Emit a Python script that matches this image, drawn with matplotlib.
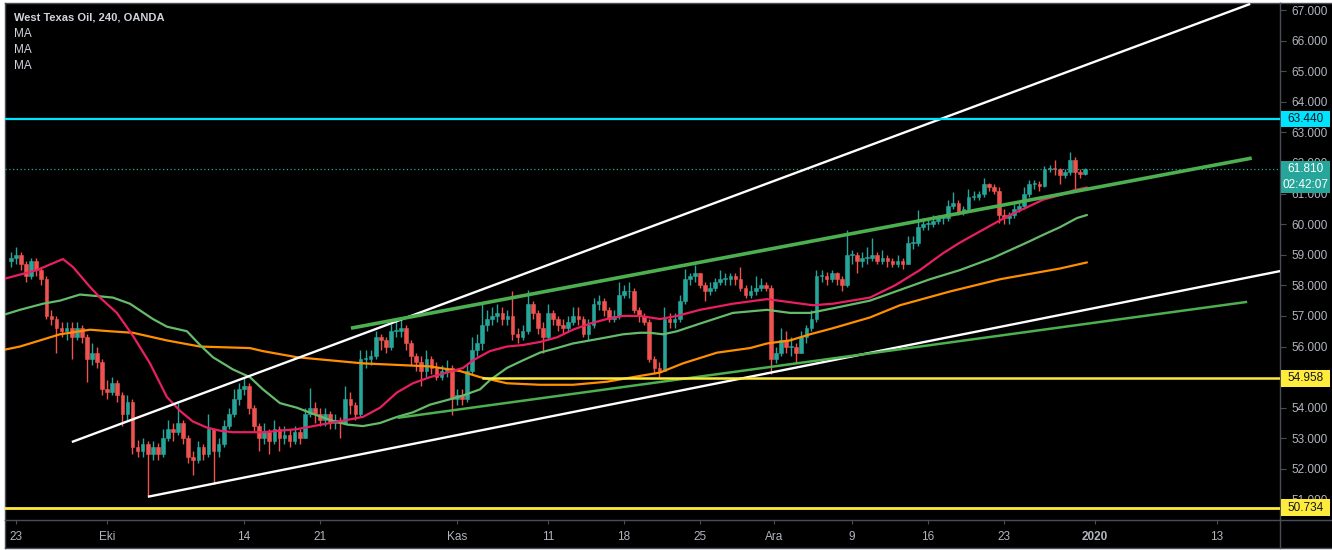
import matplotlib
matplotlib.use("Agg")
import matplotlib.pyplot as plt
import numpy as np
from matplotlib.patches import Rectangle
from matplotlib.lines import Line2D
import matplotlib.transforms as mtransforms

# ---------------- data ----------------
title = "West Texas Oil, 240, OANDA"
legend_rows = ["MA", "MA", "MA"]

# candles: 3 per trading day, day index 0 = 23 Sep (trading days only)
first_candle_day = -1 / 3
candles_per_day = 3
first_open = 58.8
closes = [
    58.9,
    59.0, 58.7, 58.3,  58.8, 58.5, 58.2,  57.0, 56.9, 56.6,  56.5, 56.6, 56.3,
    56.6, 56.3, 55.6,  55.8, 55.5, 54.6,  54.5, 54.8, 54.4,  53.8, 54.2, 52.7,
    52.6, 52.8, 52.5,  52.7, 52.5, 53.0,  53.3, 53.2, 53.5,  53.0, 52.4, 52.3,
    52.7, 52.5, 53.3,  52.6, 52.8, 53.4,  53.8, 54.3, 54.6,  54.7, 54.0, 53.4,
    53.0, 53.2, 52.9,  53.3, 53.0, 53.1,  52.9, 53.2, 53.0,  53.8, 54.0, 53.8,
    53.6, 53.8, 53.5,  53.6, 53.5, 54.3,  54.1, 53.8, 55.6,  55.6, 55.7, 56.3,
    56.2, 56.0, 56.5,  56.5, 56.6, 56.1,  55.7, 55.5, 55.2,  55.6, 55.3, 55.0,
    55.2, 55.3, 54.3,  54.4, 54.3, 55.2,  55.9, 56.1, 56.7,  56.9, 57.0, 57.1,
    56.9, 57.0, 56.4,  56.3, 56.5, 57.4,  57.1, 56.6, 56.3,  57.1, 56.9, 56.7,
    56.6, 56.8, 57.0,  56.9, 56.4, 56.7,  57.4, 57.5, 57.2,  56.9, 57.0, 57.7,
    57.8, 57.8, 57.2,  57.0, 56.8, 55.6,  55.3, 55.2, 56.9,  56.8, 56.9, 57.5,
    58.2, 58.3, 58.4,  58.0, 57.8, 57.9,  58.1, 58.2, 58.2,  58.3, 58.2, 57.9,
    57.7, 57.8, 57.9,  58.0, 57.9, 55.6,  55.8, 56.2, 56.0,  56.0, 55.8, 56.3,
    56.6, 56.9, 58.3,  58.3, 58.2, 58.4,  58.2, 58.0, 59.0,  59.0, 58.8, 58.9,
    58.9, 59.0, 58.8,  58.9, 58.8, 58.7,  58.8, 58.7, 59.4,  59.4, 59.9, 60.0,
    60.0, 60.1, 60.2,  60.2, 60.6, 60.7,  60.4, 60.5, 60.9,  60.9, 61.0, 61.3,
    61.2, 61.1, 60.3,  60.2, 60.3, 60.5,  60.6, 61.0, 61.3,  61.3, 61.25, 61.8,
    61.85, 61.8, 61.6,  61.7, 62.1, 61.7,  61.65, 61.81,
]
highs = [
    59.1,
    59.25, 59.1, 58.8,  58.9, 58.9, 58.6,  58.3, 57.2, 57.0,  56.8, 56.8, 56.8,
    56.8, 56.7, 56.4,  56.1, 56.0, 55.6,  54.9, 55.0, 54.9,  54.5, 54.4, 54.3,
    52.95, 53.0, 52.9,  52.9, 52.85, 53.3,  53.6, 53.5, 54.15,  53.6, 53.1, 52.6,
    52.9, 52.8, 53.8,  53.3, 53.0, 53.6,  54.0, 54.6, 54.8,  55.0, 54.8, 54.1,
    53.5, 53.5, 53.3,  53.6, 53.4, 53.4,  53.3, 53.4, 53.3,  54.0, 54.65, 54.2,
    54.0, 54.0, 53.9,  53.8, 53.7, 54.7,  54.5, 54.2, 55.9,  55.9, 55.9, 56.5,
    56.4, 56.3, 56.75,  56.85, 56.95, 56.7,  56.2, 55.8, 55.7,  55.9, 55.7, 55.5,
    55.4, 55.55, 55.4,  54.6, 54.6, 55.4,  56.3, 56.4, 57.4,  57.2, 57.3, 57.4,
    57.3, 57.2, 57.8,  56.6, 56.7, 57.85,  57.5, 57.2, 56.8,  57.4, 57.2, 57.0,
    56.9, 57.0, 57.3,  57.3, 57.0, 56.9,  57.6, 57.7, 57.6,  57.3, 57.2, 58.1,
    58.0, 58.1, 57.9,  57.3, 57.1, 56.9,  55.7, 55.5, 57.3,  57.1, 57.1, 57.7,
    58.55, 58.4, 58.65,  58.4, 58.1, 58.1,  58.25, 58.5, 58.4,  58.4, 58.4, 58.6,
    58.0, 58.0, 58.3,  58.25, 58.1, 58.0,  56.0, 56.6, 56.5,  56.3, 56.1, 56.5,
    56.7, 57.2, 58.5,  58.5, 58.45, 58.5,  58.45, 58.3, 59.8,  59.15, 59.1, 59.1,
    59.25, 59.55, 59.1,  59.15, 59.0, 58.9,  59.0, 58.9, 59.6,  59.6, 60.45, 60.2,
    60.2, 60.3, 60.3,  60.3, 60.8, 61.05,  60.8, 60.6, 61.15,  61.1, 61.1, 61.5,
    61.35, 61.3, 61.2,  60.5, 60.4, 60.65,  60.7, 61.2, 61.45,  61.45, 61.4, 61.9,
    61.95, 62.1, 61.85,  61.8, 62.35, 62.2,  61.8, 61.85,
]
lows = [
    58.6,
    58.7, 58.5, 58.1,  58.2, 58.3, 58.0,  56.9, 56.7, 55.8,  56.3, 56.2, 55.6,
    56.2, 56.1, 54.85,  55.4, 55.3, 54.4,  54.3, 54.4, 54.2,  53.4, 53.6, 52.5,
    52.4, 52.4, 51.1,  52.3, 52.3, 52.4,  52.9, 52.9, 53.1,  52.8, 52.2, 51.8,
    52.2, 52.3, 52.4,  51.5, 52.4, 52.7,  53.3, 53.7, 54.1,  54.4, 53.8, 53.2,
    52.6, 52.8, 52.5,  52.8, 52.6, 52.8,  52.7, 52.8, 52.8,  53.0, 53.7, 53.5,
    53.4, 53.4, 53.3,  53.3, 53.0, 53.5,  53.8, 53.6, 53.7,  55.3, 55.4, 55.6,
    55.9, 55.8, 55.9,  56.3, 56.3, 55.9,  55.4, 55.2, 54.7,  55.0, 55.1, 54.9,
    54.9, 55.0, 53.75,  54.1, 54.1, 54.2,  55.1, 55.7, 55.9,  56.5, 56.7, 56.8,
    56.7, 56.7, 56.2,  56.1, 56.2, 56.4,  56.9, 56.4, 55.8,  56.2, 56.7, 56.5,
    56.4, 56.5, 56.7,  56.7, 56.3, 56.2,  56.6, 57.2, 57.0,  56.8, 56.8, 56.9,
    57.6, 57.6, 57.1,  56.8, 56.7, 55.5,  55.1, 55.0, 55.2,  56.6, 56.6, 56.8,
    57.4, 58.0, 58.1,  57.9, 57.5, 57.7,  57.8, 58.0, 58.0,  58.0, 58.0, 57.8,
    57.6, 57.6, 57.7,  57.8, 57.8, 55.1,  55.45, 55.7, 55.8,  55.7, 55.45, 55.8,
    56.1, 56.5, 56.8,  58.1, 58.0, 58.1,  58.0, 57.8, 57.95,  58.7, 58.4, 58.6,
    58.7, 58.8, 58.7,  58.7, 58.6, 58.6,  58.6, 58.55, 58.7,  59.2, 59.3, 59.8,
    59.8, 59.9, 60.0,  60.0, 60.1, 60.5,  60.3, 60.3, 60.4,  60.8, 60.8, 60.9,
    61.1, 61.0, 60.05,  60.0, 60.0, 60.2,  60.4, 60.5, 60.9,  61.15, 61.1, 61.2,
    61.7, 61.6, 61.3,  61.5, 61.6, 61.1,  61.5, 61.6,
]

# moving averages (day index, price)
ma_red_day = [-0.72, 1.38, 3.09, 3.75, 4.87, 5.53, 6.64, 7.70, 8.82, 9.93, 10.79, 11.64,
              12.57, 13.42, 14.28, 16.25, 18.49, 20.66, 21.78, 22.83, 23.95, 25.07, 26.12,
              27.24, 28.36, 29.41, 30.07, 31.18, 32.30, 33.36, 34.47, 35.59, 36.64, 37.76,
              38.88, 39.93, 41.05, 42.37, 43.49, 45.0, 47.17, 49.41, 50.92, 52.43, 53.75,
              56.18, 57.83, 59.47, 60.99, 62.11, 64.28, 65.39, 66.51, 67.57, 68.68, 69.54, 70.46]
ma_red_val = [58.22, 58.5, 58.86, 58.6, 57.95, 57.6, 57.1, 56.35, 55.45, 54.35, 53.9, 53.55,
              53.35, 53.25, 53.2, 53.2, 53.3, 53.5, 53.6, 53.7, 54.0, 54.5, 54.8,
              55.0, 55.15, 55.3, 55.55, 55.85, 56.0, 56.05, 56.15, 56.3, 56.55, 56.75,
              56.9, 57.0, 57.0, 56.9, 57.0, 57.2, 57.4, 57.55, 57.45, 57.35, 57.4,
              57.6, 58.0, 58.5, 59.05, 59.4, 60.0, 60.3, 60.55, 60.8, 60.95, 61.1, 61.2]
ma_green_day = [-0.72, 0.26, 1.78, 2.89, 4.21, 5.33, 6.38, 7.5, 9.01, 9.93, 11.25, 12.11, 12.96,
                14.28, 15.39, 16.25, 17.37, 18.49, 19.54, 20.66, 21.78, 22.83, 23.95, 25.07,
                26.12, 27.24, 28.36, 29.41, 30.53, 31.18, 32.30, 33.36, 34.47, 35.59, 36.64,
                37.76, 38.88, 39.93, 41.05, 41.71, 42.57, 43.49, 45.0, 47.17, 48.29, 49.41,
                50.92, 52.24, 53.75, 56.18, 58.16, 60.13, 62.11, 64.28, 66.51, 67.57, 68.68,
                69.8, 70.46]
ma_green_val = [57.05, 57.2, 57.4, 57.5, 57.7, 57.65, 57.6, 57.4, 56.9, 56.65, 56.5, 56.05, 55.65,
                55.25, 55.0, 54.6, 54.15, 54.0, 53.8, 53.6, 53.45, 53.4, 53.5, 53.7,
                53.85, 54.1, 54.25, 54.4, 54.6, 54.9, 55.3, 55.55, 55.8, 55.95, 56.1,
                56.2, 56.3, 56.4, 56.45, 56.45, 56.4, 56.5, 56.75, 57.1, 57.15, 57.2,
                57.1, 57.1, 57.25, 57.5, 57.85, 58.2, 58.5, 58.9, 59.4, 59.65, 59.9,
                60.2, 60.3]
ma_orange_day = [-0.72, 0.26, 1.58, 2.89, 4.87, 6.18, 7.70, 9.93, 12.11, 15.39, 16.25, 18.49,
                 20.66, 22.83, 25.07, 27.24, 29.21, 30.53, 32.30, 34.47, 36.64, 38.88, 40.59,
                 42.37, 43.88, 46.12, 48.29, 49.41, 50.92, 52.24, 53.75, 56.18, 58.16, 61.45,
                 64.74, 68.68, 70.46]
ma_orange_val = [55.9, 56.0, 56.2, 56.4, 56.55, 56.5, 56.45, 56.2, 56.0, 55.95, 55.85, 55.65,
                 55.55, 55.45, 55.4, 55.35, 55.2, 55.0, 54.8, 54.75, 54.75, 54.85, 55.0,
                 55.15, 55.45, 55.8, 55.95, 56.1, 56.2, 56.4, 56.6, 56.95, 57.35, 57.8,
                 58.2, 58.55, 58.75]

# drawn trend lines: (day, price) end points
white_upper = [(3.68, 52.88), (81.2, 67.2)]
white_lower = [(8.68, 51.09), (83.2, 58.47)]
green_upper = [(22.04, 56.6), (81.3, 62.16)]
green_lower = [(25.1, 53.67), (81.0, 57.46)]

# horizontal levels
level_cyan = 63.440
level_yellow_mid = 54.958
level_yellow_mid_start = 30.7
level_yellow_low = 50.734
last_price = 61.810
countdown = "02:42:07"
countdown_price = 61.28

# axes
x_tick_pos = [0, 6, 15, 20, 29, 35, 40, 45, 49.9, 55, 60, 65, 71, 79]
x_tick_lab = ["23", "Eki", "14", "21", "Kas", "11", "18", "25", "Ara", "9", "16", "23", "2020", "13"]
y_ticks = list(range(51, 68))
y_hidden = [55]          # fully covered by the 54.958 label in the reference
x_limits = (-0.72, 83.16)
y_limits = (50.33, 67.23)

# ---------------- drawing ----------------
W, H = 1332, 550
fig = plt.figure(figsize=(W / 100, H / 100), dpi=100, facecolor="white")
bg = Rectangle((5 / W, 2 / H), (W - 5) / W, 545 / H, transform=fig.transFigure,
               facecolor="black", edgecolor="none", zorder=-10)
fig.patches.append(bg)

ax = fig.add_axes([5 / W, 30 / H, 1275 / W, 517 / H])
ax.set_facecolor("black")
ax.set_xlim(*x_limits)
ax.set_ylim(*y_limits)

border = "#4a4d57"
for s in ax.spines.values():
    s.set_color(border)
    s.set_linewidth(1.0)

UP, DOWN = "#26a69a", "#ef5350"
n = min(len(closes), len(highs), len(lows))
c = np.array(closes[:n])
o = np.concatenate([[first_open], c[:-1]])
h = np.maximum(np.array(highs[:n]), np.maximum(o, c))
l = np.minimum(np.array(lows[:n]), np.minimum(o, c))
t = first_candle_day + np.arange(n) / candles_per_day
cols = np.where(c >= o, UP, DOWN)
ax.vlines(t, l, h, colors=cols, linewidth=1.0, zorder=2)
body = np.maximum(np.abs(c - o), 0.03)
ax.bar(t, body, bottom=np.minimum(o, c), width=0.24, color=cols, edgecolor=cols,
       linewidth=0.4, zorder=2.1)

ax.plot(ma_orange_day, ma_orange_val, color="#ff8f00", lw=1.6, zorder=3, solid_capstyle="round")
ax.plot(ma_green_day, ma_green_val, color="#66bb6a", lw=1.6, zorder=3, solid_capstyle="round")
ax.plot(ma_red_day, ma_red_val, color="#e91e63", lw=1.6, zorder=3, solid_capstyle="round")

for seg, col, lw in [(white_upper, "white", 1.7), (white_lower, "white", 1.7),
                     (green_upper, "#4caf50", 2.6), (green_lower, "#4caf50", 1.8)]:
    xs, ys = zip(*seg)
    ax.plot(xs, ys, color=col, lw=lw, zorder=4, solid_capstyle="butt")

ax.axhline(level_cyan, color="#00e5ff", lw=1.6, zorder=4)
ax.axhline(level_yellow_low, color="#ffeb3b", lw=2.0, zorder=4)
ax.plot([level_yellow_mid_start, x_limits[1]], [level_yellow_mid] * 2, color="#ffeb3b", lw=1.8, zorder=4)
ax.axhline(last_price, color="#26a69a", lw=0.9, ls=(0, (1, 2)), zorder=3.5)

# ticks
ax.yaxis.tick_right()
ax.set_yticks(y_ticks)
ax.set_yticklabels(["" if v in y_hidden else f"{v:.3f}" for v in y_ticks])
ax.tick_params(axis="y", colors=border, labelcolor="#b2b5be", labelsize=8.5, length=4, pad=4)
ax.set_xticks(x_tick_pos)
ax.set_xticklabels(x_tick_lab)
ax.tick_params(axis="x", colors=border, labelcolor="#b2b5be", labelsize=8.5, length=3, pad=5)
for lab in ax.get_xticklabels():
    lab.set_fontfamily("Liberation Sans")
    if lab.get_text() == "2020":
        lab.set_fontweight("bold")
for lab in ax.get_yticklabels():
    lab.set_fontfamily("Liberation Sans")

# price boxes on the right axis
bt = mtransforms.blended_transform_factory(fig.transFigure, ax.transData)
bh = 0.27
for price, txt, fc, tc in [(level_cyan, f"{level_cyan:.3f}", "#00e5ff", "#131722"),
                           (last_price, f"{last_price:.3f}", "#26a69a", "white"),
                           (countdown_price, countdown, "#26a69a", "white"),
                           (level_yellow_mid, f"{level_yellow_mid:.3f}", "#ffeb3b", "#131722"),
                           (level_yellow_low, f"{level_yellow_low:.3f}", "#ffeb3b", "#131722")]:
    ax.add_patch(Rectangle((1281 / W, price - bh), 49 / W, 2 * bh, transform=bt,
                           facecolor=fc, edgecolor="none", clip_on=False, zorder=10))
    ax.text(1305.5 / W, price, txt, transform=bt, ha="center", va="center",
            color=tc, fontsize=8.5, family="Liberation Sans", zorder=11, clip_on=False)

# legend text top-left
fig.text(14 / W, 1 - 18 / H, title, color="#d1d4dc", fontsize=8, fontweight="bold",
         family="Liberation Sans", va="center", ha="left")
for i, row in enumerate(legend_rows):
    fig.text(14 / W, 1 - (34 + 16 * i) / H, row, color="#d1d4dc", fontsize=8.5,
             family="Liberation Sans", va="center", ha="left")

# frame of the time-axis strip
for xs, ys in [([1280, 1280], [520, 548]), ([5, W], [548, 548]), ([1280, W], [520, 520]),
               ([5, 5], [520, 548]), ([1280, W], [3, 3])]:
    fig.add_artist(Line2D([x / W for x in xs], [1 - y / H for y in ys], color=border,
                          lw=1.0, transform=fig.transFigure))

fig.savefig("out.png", dpi=100, facecolor="white")
